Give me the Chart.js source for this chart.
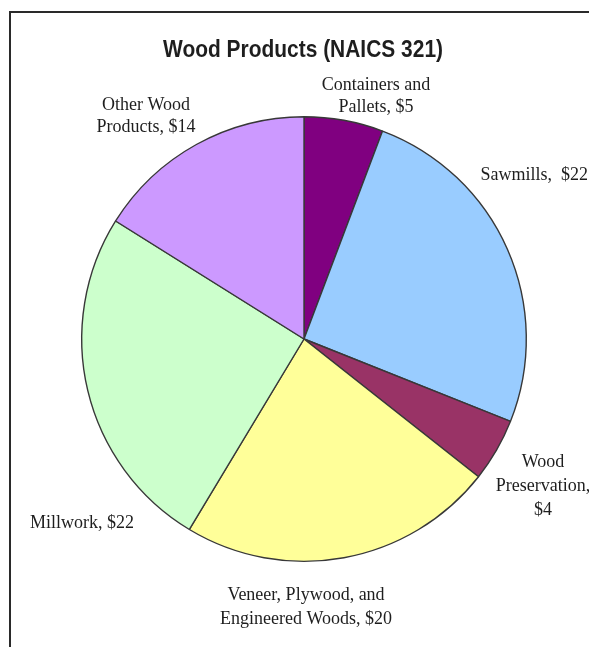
<!DOCTYPE html>
<html>
<head>
<meta charset="utf-8">
<title>Wood Products (NAICS 321)</title>
<script src="https://cdn.jsdelivr.net/npm/chart.js@4.4.1/dist/chart.umd.min.js"></script>
<style>
    html, body {
        margin: 0;
        padding: 0;
        background: #ffffff;
        overflow: hidden;
    }
    .frame {
        position: absolute;
        left: 9px;
        top: 11px;
        width: 600px;
        height: 660px;
        border-top: 2px solid #2a2a2a;
        border-left: 2px solid #2a2a2a;
    }
    .chart-box {
        position: absolute;
        left: 0;
        top: 0;
        width: 589px;
        height: 647px;
    }
</style>
</head>
<body>
<div class="frame"></div>
<div class="chart-box">
    <canvas id="woodChart" width="589" height="647"></canvas>
</div>
<script>
// Данные диаграммы (млрд $)
const chartTitle = 'Wood Products (NAICS 321)';
const categories = [
    'Containers and Pallets',
    'Sawmills',
    'Wood Preservation',
    'Veneer, Plywood, and Engineered Woods',
    'Millwork',
    'Other Wood Products'
];
const values = [5, 22, 4, 20, 22, 14];
const sliceColors = ['#800080', '#99ccff', '#993366', '#ffff99', '#ccffcc', '#cc99ff'];

// Подписи секторов так, как они разбиты на строки в оригинале
const labelLines = [
    ['Containers and', 'Pallets, $5'],
    ['Sawmills,  $22'],
    ['Wood', 'Preservation,', '$4'],
    ['Veneer, Plywood, and', 'Engineered Woods, $20'],
    ['Millwork, $22'],
    ['Other Wood', 'Products, $14']
];

// Заголовок узким жирным шрифтом (сжимаем по ширине, т.к. Narrow нет)
const condensedTitle = {
    id: 'condensedTitle',
    afterDraw(chart, args, opts) {
        const ctx = chart.ctx;
        ctx.save();
        ctx.font = opts.font;
        ctx.fillStyle = opts.color;
        ctx.textAlign = 'center';
        ctx.textBaseline = 'middle';
        const w = ctx.measureText(opts.text).width;
        const sx = Math.min(1, opts.width / w);
        ctx.translate(opts.x, opts.y);
        ctx.scale(sx, 1);
        ctx.fillText(opts.text, 0, 0);
        ctx.restore();
    }
};

// Плагин для подписей снаружи круга
const outsideLabels = {
    id: 'outsideLabels',
    afterDatasetsDraw(chart, args, opts) {
        const ctx = chart.ctx;
        ctx.save();
        ctx.font = opts.font;
        ctx.fillStyle = opts.color;
        ctx.textBaseline = 'middle';
        labelLines.forEach((lines, i) => {
            const pos = opts.positions[i];
            ctx.textAlign = pos.align || 'center';
            lines.forEach((line, j) => {
                ctx.fillText(line, pos.x, pos.y + j * pos.step);
            });
        });
        ctx.restore();
    }
};

const ctx = document.getElementById('woodChart').getContext('2d');

const chart = new Chart(ctx, {
    type: 'pie',
    data: {
        labels: categories,
        datasets: [{
            data: values,
            backgroundColor: sliceColors,
            borderColor: '#383838',
            borderWidth: 1.4
        }]
    },
    options: {
        responsive: false,
        animation: false,
        layout: {
            padding: { top: 116, bottom: 85, left: 40, right: 21 }
        },
        plugins: {
            legend: { display: false },
            tooltip: { enabled: false },
            title: { display: false },
            condensedTitle: {
                text: chartTitle,
                font: "bold 24px 'Liberation Sans', Arial, sans-serif",
                color: '#1e1e1e',
                x: 303,
                y: 50,
                width: 280
            },
            outsideLabels: {
                font: "18px 'Liberation Serif', 'Times New Roman', serif",
                color: '#1e1e1e',
                positions: [
                    { x: 376, y: 85, step: 22 },
                    { x: 588, y: 175, step: 22, align: 'right' },
                    { x: 543, y: 462, step: 24 },
                    { x: 306, y: 595, step: 24 },
                    { x: 82, y: 523, step: 22 },
                    { x: 146, y: 105, step: 22 }
                ]
            }
        }
    },
    plugins: [condensedTitle, outsideLabels]
});
</script>
</body>
</html>
